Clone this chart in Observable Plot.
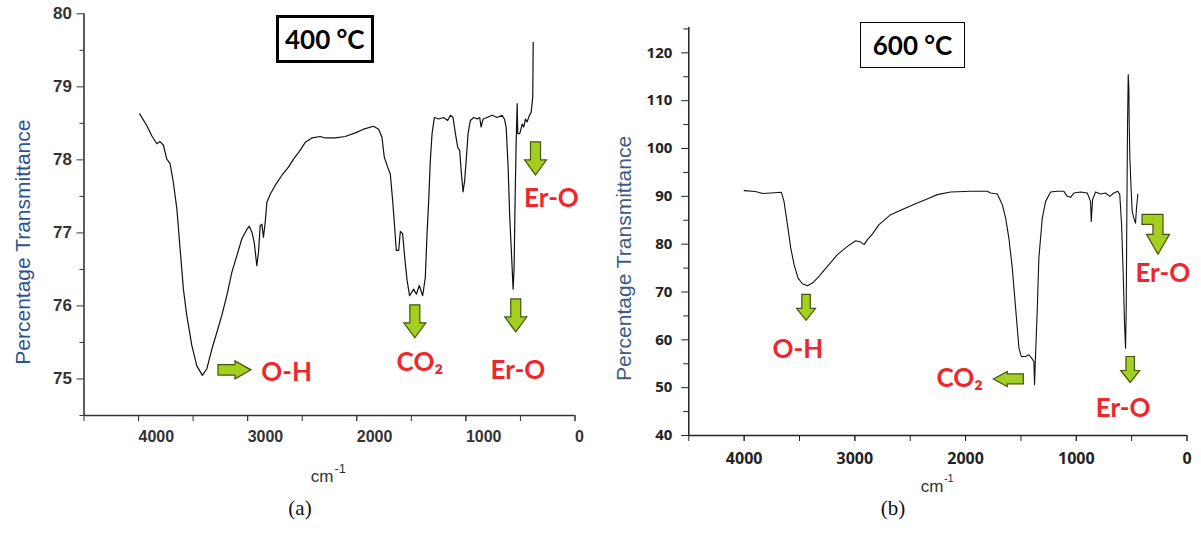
<!DOCTYPE html>
<html><head><meta charset="utf-8">
<script src="https://cdn.jsdelivr.net/npm/d3@7"></script>
<script src="https://cdn.jsdelivr.net/npm/@observablehq/plot@0.6"></script>
<style>
body{margin:0;background:#fff;}
#wrap{position:relative;width:1201px;height:535px;overflow:hidden;background:#fff;}
.panel{position:absolute;top:0;}
.tbox{position:absolute;box-sizing:border-box;display:flex;align-items:center;justify-content:center;font-family:Lato,"Open Sans",sans-serif;font-weight:700;font-size:26px;color:#000;background:#fff;}
.cap{position:absolute;font-family:"Liberation Serif",serif;font-size:21px;transform:translateX(-50%);color:#111;}
</style></head><body>
<div id="wrap">
  <div id="pa" class="panel" style="left:0px"></div>
  <div id="pb" class="panel" style="left:600px"></div>
  <div class="tbox" style="left:275.5px;top:15.3px;width:98.5px;height:48px;border:3px solid #000">400 °C</div>
  <div class="tbox" style="left:860px;top:21.7px;width:105px;height:46px;border:1.5px solid #000">600 °C</div>
  <div class="cap" style="left:300px;top:496px">(a)</div>
  <div class="cap" style="left:893px;top:496px">(b)</div>
</div>
<script>
// ---------- Data: panel (a) 400 °C ----------
const waveA = [3990,3925,3879,3833,3803,3772,3741,3711,3681,3649,3619,3589,3558,3512,3466,3415,3374,3328,3282,3237,3191,3145,3099,3053,3007,2986,2961,2940,2916,2901,2885,2870,2855,2839,2824,2793,2748,2686,2626,2580,2534,2472,2411,2335,2289,2197,2105,2014,1937,1846,1800,1769,1748,1717,1693,1671,1653,1638,1616,1601,1580,1561,1539,1516,1479,1454,1427,1396,1372,1356,1341,1326,1310,1289,1249,1204,1167,1142,1118,1096,1075,1057,1041,1026,1011,995,980,959,928,897,873,861,842,805,760,714,668,647,631,613,598,582,567,558,549,539,530,525,506,484,470,454,439,417,402,387,383];
const transA = [78.63,78.47,78.33,78.22,78.25,78.20,78.01,77.95,77.69,77.33,76.78,76.23,75.87,75.46,75.18,75.05,75.14,75.41,75.64,75.87,76.14,76.46,76.69,76.92,77.05,77.09,77.01,76.87,76.55,76.73,77.10,77.12,76.94,77.15,77.42,77.53,77.65,77.79,77.90,78.01,78.10,78.24,78.30,78.32,78.30,78.30,78.32,78.37,78.42,78.46,78.42,78.31,78.04,77.90,77.81,77.44,77.08,76.76,76.76,77.02,76.99,76.67,76.35,76.14,76.23,76.16,76.28,76.14,76.39,76.99,77.44,77.99,78.36,78.58,78.56,78.58,78.54,78.61,78.58,78.36,78.17,78.13,77.81,77.56,77.72,78.04,78.36,78.54,78.58,78.56,78.58,78.45,78.56,78.58,78.61,78.58,78.61,78.56,78.45,77.90,77.21,76.71,76.23,76.53,77.44,78.26,78.77,78.36,78.36,78.49,78.45,78.56,78.52,78.61,78.65,78.86,79.61];

// ---------- Data: panel (b) 600 °C ----------
const waveB = [4000,3900,3830,3760,3663,3640,3609,3579,3549,3513,3474,3428,3383,3324,3248,3158,3067,2992,2947,2917,2887,2842,2782,2677,2556,2436,2331,2255,2135,1954,1804,1774,1713,1668,1638,1609,1578,1548,1518,1497,1458,1428,1404,1383,1377,1370,1352,1338,1307,1277,1232,1172,1112,1081,1052,1022,961,901,871,865,853,826,781,736,697,661,625,607,591,576,564,555,549,543,537,531,525,522,516,504,495,480,465,456,444];
const transB = [91.2,91.0,90.6,90.7,90.85,88.95,84.08,79.18,75.71,72.91,71.73,71.32,71.87,73.26,75.36,77.80,79.54,80.73,80.44,79.90,80.94,82.11,84.08,86.17,87.43,88.6,89.6,90.36,90.90,91.05,91.05,90.69,90.48,88.26,85.46,81.28,75.0,66.63,58.26,56.53,56.53,56.88,56.17,55.48,50.61,55.5,66.63,77.09,85.46,88.95,90.90,91.05,91.05,90.0,89.79,90.69,90.90,90.69,88.95,84.77,89.31,90.90,90.48,90.69,90.0,90.69,91.05,90.36,84.08,73.62,63.16,58.26,66.63,87.55,105.0,115.46,112.66,105.0,98.0,91.05,86.86,85.46,84.41,87.55,90.48];

// ---------- Axes ----------
const xMajorTicks = [4000,3000,2000,1000,0];
const xMinorTicks = [4500,4000,3500,3000,2500,2000,1500,1000,500,0];
const yTicksA = [75,76,77,78,79,80];
const yMinorA = [74.5,75.5,76.5,77.5,78.5,79.5];
const yTicksB = [40,50,60,70,80,90,100,110,120];
const yMinorB = [45,55,65,75,85,95,105,115,125];

// ---------- Annotations ----------
const labelsA = ["O-H","CO₂","Er-O","Er-O"];
const labelWaveA = [2642,1422,523,216];
const labelTransA = [75.09,75.22,75.11,77.47];
const arrowWaveA = [3121,1468,543,362];
const arrowTransA = [75.125,75.79,75.87,78.02];
const arrowDirA = ["right","down","down","down"];

const labelsB = ["O-H","CO₂","Er-O","Er-O"];
const labelWaveB = [3514,2052,577,218];
const labelTransB = [58.0,51.82,45.54,73.8];
const arrowWaveB = [3441,1614,513,262];
const arrowTransB = [66.78,51.82,53.8,82.05];
const arrowDirB = ["down","left","down","bent"];

// ---------- helpers ----------
function arrowSymbol(dir, L, headW, shaftW, headL) {
  const h = L/2, s = shaftW/2, w = headW/2, b = h - headL;
  const base = [[-s,-h],[s,-h],[s,b],[w,b],[0,h],[-w,b],[-s,b]];
  const tf = {down:([x,y])=>[x,y], right:([x,y])=>[y,x], left:([x,y])=>[-y,x]}[dir];
  const pts = base.map(tf);
  return {draw(ctx){ ctx.moveTo(pts[0][0],pts[0][1]); for (let i=1;i<pts.length;i++) ctx.lineTo(pts[i][0],pts[i][1]); ctx.closePath(); }};
}
const bentSymbol = {draw(ctx){
  const pts = [[-16,-20],[5,-20],[5,0],[11.5,0],[0,20],[-11.5,0],[-5,0],[-5,-10],[-16,-10]];
  ctx.moveTo(pts[0][0],pts[0][1]); for (let i=1;i<pts.length;i++) ctx.lineTo(pts[i][0],pts[i][1]); ctx.closePath();
}};
const ARROW_FILL = "#a3d01e", ARROW_STROKE = "#46540c", LABEL_RED = "#f0262c";

function arrowMarks(recs, symbols) {
  return Object.keys(symbols).map(k => Plot.dot(recs.filter(d => d.dir === k), {
    x: "x", y: "y", symbol: symbols[k], fill: ARROW_FILL, stroke: ARROW_STROKE, strokeWidth: 1.2
  }));
}

// ---------- Panel (a) ----------
const seriesA = waveA.map((w,i)=>({w, t: transA[i]}));
const labA = labelsA.map((s,i)=>({s, x: labelWaveA[i], y: labelTransA[i]}));
const arrA = arrowDirA.map((dir,i)=>({dir, x: arrowWaveA[i], y: arrowTransA[i]}));

const plotA = Plot.plot({
  width: 600, height: 490,
  marginLeft: 83.5, marginRight: 25.5, marginTop: 13.3, marginBottom: 75,
  style: {fontFamily: "Liberation Sans, Arial, sans-serif", background: "white", overflow: "visible"},
  x: {domain: [4500, 0]},
  y: {domain: [74.5, 80]},
  marks: [
    Plot.axisX(xMinorTicks, {tickSize: 6, tickFormat: () => "", stroke: "#333", label: null}),
    Plot.axisX(xMajorTicks, {tickSize: 6, tickPadding: 9, tickFormat: d => String(d), textAnchor: "start", fontSize: 16, fontWeight: "bold", fill: "#333", stroke: "#333", label: null}),
    Plot.axisY(yMinorA, {tickSize: 4, tickFormat: () => "", stroke: "#333", label: null}),
    Plot.axisY(yTicksA, {tickSize: 7, tickPadding: 5, tickFormat: d => String(d), fontSize: 17, fontWeight: "bold", fill: "#333", stroke: "#333", label: null}),
    Plot.ruleX([4500], {stroke: "#333", strokeWidth: 1.6}),
    Plot.ruleY([74.5], {stroke: "#333", strokeWidth: 1.6}),
    Plot.text(["Percentage Transmittance"], {text: d => d, frameAnchor: "left", textAnchor: "middle", lineAnchor: "middle", rotate: -90, dx: -61, dy: 27.5, fontSize: 21, fill: "#2d5290"}),
    Plot.text(["cm"], {text: d => d, frameAnchor: "bottom", lineAnchor: "middle", dx: -7.5, dy: 61, fontSize: 17, fill: "#333"}),
    Plot.text(["-1"], {text: d => d, frameAnchor: "bottom", lineAnchor: "middle", dx: 5, dy: 53, fontSize: 13, textAnchor: "start", fill: "#333"}),
    Plot.line(seriesA, {x: "w", y: "t", stroke: "#111", strokeWidth: 1.2}),
    ...arrowMarks(arrA, {right: arrowSymbol("right", 33, 18, 10.5, 16), down: arrowSymbol("down", 33, 22, 10, 15)}),
    Plot.text(labA, {x: "x", y: "y", text: "s", fill: LABEL_RED, fontFamily: "Lato", fontWeight: "bold", fontSize: 26})
  ]
});
document.getElementById("pa").append(plotA);

// ---------- Panel (b) ----------
const seriesB = waveB.map((w,i)=>({w, t: transB[i]}));
const labB = labelsB.map((s,i)=>({s, x: labelWaveB[i], y: labelTransB[i]}));
const arrB = arrowDirB.map((dir,i)=>({dir, x: arrowWaveB[i], y: arrowTransB[i]}));

const plotB = Plot.plot({
  width: 601, height: 490,
  marginLeft: 88.3, marginRight: 14.5, marginTop: 27, marginBottom: 55,
  style: {fontFamily: "Open Sans, sans-serif", background: "white", overflow: "visible"},
  x: {domain: [4500, 0]},
  y: {domain: [40, 125.3]},
  marks: [
    Plot.axisX(xMinorTicks, {tickSize: 6, tickFormat: () => "", stroke: "#222", label: null}),
    Plot.axisX(xMajorTicks, {tickSize: 6, tickPadding: 11, tickFormat: d => String(d), fontSize: 16, fontWeight: "bold", fill: "#222", stroke: "#222", label: null}),
    Plot.axisY(yMinorB, {tickSize: 5, tickFormat: () => "", stroke: "#222", label: null}),
    Plot.axisY(yTicksB, {tickSize: 7, tickPadding: 9.5, tickFormat: d => String(d), fontSize: 15, fontWeight: "bold", fill: "#222", stroke: "#222", label: null}),
    Plot.ruleX([4500], {stroke: "#222", strokeWidth: 1.5}),
    Plot.ruleY([40], {stroke: "#222", strokeWidth: 1.5}),
    Plot.text(["Percentage Transmittance"], {text: d => d, frameAnchor: "left", textAnchor: "middle", lineAnchor: "middle", rotate: -90, dx: -65, dy: 27, fontSize: 21, fontFamily: "Liberation Sans, Arial, sans-serif", fill: "#3c5a85"}),
    Plot.text(["cm"], {text: d => d, frameAnchor: "bottom", lineAnchor: "middle", dx: -5.75, dy: 50.6, fontSize: 17, fontFamily: "Liberation Sans, Arial, sans-serif", fill: "#333"}),
    Plot.text(["-1"], {text: d => d, frameAnchor: "bottom", lineAnchor: "middle", dx: 6, dy: 43.4, fontSize: 11, textAnchor: "start", fontFamily: "Liberation Sans, Arial, sans-serif", fill: "#333"}),
    Plot.line(seriesB, {x: "w", y: "t", stroke: "#111", strokeWidth: 1.1}),
    ...arrowMarks(arrB, {down: arrowSymbol("down", 26, 19, 8.5, 12), left: arrowSymbol("left", 30, 15, 10, 14), bent: bentSymbol}),
    Plot.text(labB, {x: "x", y: "y", text: "s", fill: LABEL_RED, fontFamily: "Lato", fontWeight: "bold", fontSize: 26})
  ]
});
document.getElementById("pb").append(plotB);
</script>
</body></html>
